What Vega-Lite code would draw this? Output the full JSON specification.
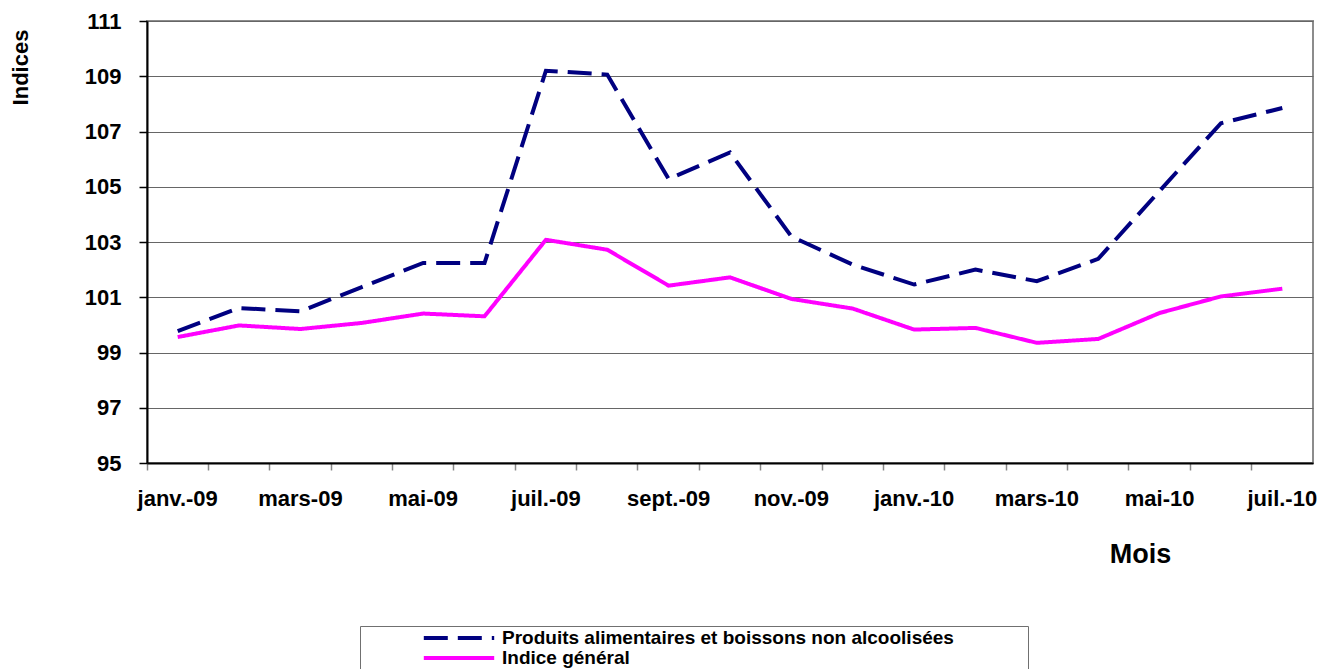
{
  "$schema": "https://vega.github.io/schema/vega-lite/v6.json",
  "width": 1166,
  "height": 442,
  "autosize": {"type": "none"},
  "padding": {"left": 147, "top": 21, "right": 12, "bottom": 206},
  "background": "white",
  "config": {
    "font": "Liberation Sans",
    "view": {"stroke": "#8c8c8c", "strokeWidth": 2},
    "axis": {"labelFont": "Liberation Sans", "titleFont": "Liberation Sans"}
  },
  "data": {
    "values": [
      {"mois": "janv.-09", "serie": "Produits alimentaires et boissons non alcoolisées", "valeur": 99.77},
      {"mois": "févr.-09", "serie": "Produits alimentaires et boissons non alcoolisées", "valeur": 100.61},
      {"mois": "mars-09", "serie": "Produits alimentaires et boissons non alcoolisées", "valeur": 100.49},
      {"mois": "avr.-09", "serie": "Produits alimentaires et boissons non alcoolisées", "valeur": 101.37},
      {"mois": "mai-09", "serie": "Produits alimentaires et boissons non alcoolisées", "valeur": 102.24},
      {"mois": "juin-09", "serie": "Produits alimentaires et boissons non alcoolisées", "valeur": 102.24},
      {"mois": "juil.-09", "serie": "Produits alimentaires et boissons non alcoolisées", "valeur": 109.2},
      {"mois": "août-09", "serie": "Produits alimentaires et boissons non alcoolisées", "valeur": 109.06},
      {"mois": "sept.-09", "serie": "Produits alimentaires et boissons non alcoolisées", "valeur": 105.28},
      {"mois": "oct.-09", "serie": "Produits alimentaires et boissons non alcoolisées", "valeur": 106.24},
      {"mois": "nov.-09", "serie": "Produits alimentaires et boissons non alcoolisées", "valeur": 103.2},
      {"mois": "déc.-09", "serie": "Produits alimentaires et boissons non alcoolisées", "valeur": 102.18},
      {"mois": "janv.-10", "serie": "Produits alimentaires et boissons non alcoolisées", "valeur": 101.46},
      {"mois": "févr.-10", "serie": "Produits alimentaires et boissons non alcoolisées", "valeur": 102.0},
      {"mois": "mars-10", "serie": "Produits alimentaires et boissons non alcoolisées", "valeur": 101.58},
      {"mois": "avr.-10", "serie": "Produits alimentaires et boissons non alcoolisées", "valeur": 102.39},
      {"mois": "mai-10", "serie": "Produits alimentaires et boissons non alcoolisées", "valeur": 104.85},
      {"mois": "juin-10", "serie": "Produits alimentaires et boissons non alcoolisées", "valeur": 107.3},
      {"mois": "juil.-10", "serie": "Produits alimentaires et boissons non alcoolisées", "valeur": 107.85},
      {"mois": "janv.-09", "serie": "Indice général", "valeur": 99.56},
      {"mois": "févr.-09", "serie": "Indice général", "valeur": 99.98},
      {"mois": "mars-09", "serie": "Indice général", "valeur": 99.85},
      {"mois": "avr.-09", "serie": "Indice général", "valeur": 100.07},
      {"mois": "mai-09", "serie": "Indice général", "valeur": 100.41},
      {"mois": "juin-09", "serie": "Indice général", "valeur": 100.31},
      {"mois": "juil.-09", "serie": "Indice général", "valeur": 103.08},
      {"mois": "août-09", "serie": "Indice général", "valeur": 102.72},
      {"mois": "sept.-09", "serie": "Indice général", "valeur": 101.42},
      {"mois": "oct.-09", "serie": "Indice général", "valeur": 101.72},
      {"mois": "nov.-09", "serie": "Indice général", "valeur": 100.94},
      {"mois": "déc.-09", "serie": "Indice général", "valeur": 100.59},
      {"mois": "janv.-10", "serie": "Indice général", "valeur": 99.83},
      {"mois": "févr.-10", "serie": "Indice général", "valeur": 99.89},
      {"mois": "mars-10", "serie": "Indice général", "valeur": 99.35},
      {"mois": "avr.-10", "serie": "Indice général", "valeur": 99.49},
      {"mois": "mai-10", "serie": "Indice général", "valeur": 100.43},
      {"mois": "juin-10", "serie": "Indice général", "valeur": 101.03},
      {"mois": "juil.-10", "serie": "Indice général", "valeur": 101.31}
    ]
  },
  "layer": [
    {
      "mark": {"type": "line", "strokeWidth": 4, "strokeCap": "butt", "strokeJoin": "miter"},
      "encoding": {
        "x": {
          "field": "mois", "type": "ordinal", "sort": null,
          "scale": {"type": "band", "paddingInner": 0, "paddingOuter": 0},
          "axis": {
            "orient": "bottom",
            "bandPosition": 0, "labels": false, "title": null, "grid": false,
            "domainColor": "#000000", "domainWidth": 2,
            "tickColor": "#888888", "tickSize": 7, "tickWidth": 1.5
          }
        },
        "y": {
          "field": "valeur", "type": "quantitative",
          "scale": {"domain": [95, 111], "nice": false, "zero": false},
          "axis": {
            "values": [95, 97, 99, 101, 103, 105, 107, 109, 111],
            "title": "Indices", "titleFontSize": 22, "titleFontWeight": "bold",
            "titleAngle": 270, "titleX": -127, "titleY": 46,
            "titleAlign": "center", "titleBaseline": "middle", "titleColor": "#000000",
            "labelFontSize": 22, "labelFontWeight": "bold", "labelColor": "#000000",
            "labelPadding": 18,
            "domainColor": "#000000", "domainWidth": 2,
            "tickColor": "#000000", "tickSize": 8, "tickWidth": 1.5,
            "grid": true, "gridColor": "#666666", "gridWidth": 1
          }
        },
        "color": {
          "field": "serie", "type": "nominal",
          "scale": {
            "domain": ["Produits alimentaires et boissons non alcoolisées", "Indice général"],
            "range": ["#000080", "#FF00FF"]
          },
          "legend": {
            "orient": "none", "legendX": 213, "legendY": 605,
            "direction": "vertical",
            "title": "\u00a0", "titleOrient": "right", "titlePadding": 72, "titleFontSize": 10,
            "strokeColor": "#707070", "fillColor": "#ffffff", "padding": 2,
            "symbolType": "M-4.4,0H4.4", "symbolSize": 256, "symbolStrokeWidth": 4,
            "symbolOffset": 87, "labelOffset": 33, "rowPadding": 0,
            "labelFont": "Liberation Sans", "labelFontSize": 19, "labelFontWeight": "bold",
            "labelColor": "#000000", "labelLimit": 0
          }
        },
        "strokeDash": {
          "field": "serie", "type": "nominal",
          "scale": {
            "domain": ["Produits alimentaires et boissons non alcoolisées", "Indice général"],
            "range": [[24, 10], [1, 0]]
          },
          "legend": {
            "orient": "none", "legendX": 213, "legendY": 605,
            "direction": "vertical",
            "title": "\u00a0", "titleOrient": "right", "titlePadding": 72, "titleFontSize": 10,
            "strokeColor": "#707070", "fillColor": "#ffffff", "padding": 2,
            "symbolType": "M-4.4,0H4.4", "symbolSize": 256, "symbolStrokeWidth": 4,
            "symbolOffset": 87, "labelOffset": 33, "rowPadding": 0,
            "labelFont": "Liberation Sans", "labelFontSize": 19, "labelFontWeight": "bold",
            "labelColor": "#000000", "labelLimit": 0
          }
        }
      }
    },
    {
      "mark": {"type": "point", "opacity": 0},
      "encoding": {
        "x": {
          "field": "mois", "type": "ordinal", "sort": null,
          "scale": {"type": "band", "paddingInner": 0, "paddingOuter": 0},
          "axis": {
            "orient": "bottom",
            "values": ["janv.-09", "mars-09", "mai-09", "juil.-09", "sept.-09", "nov.-09", "janv.-10", "mars-10", "mai-10", "juil.-10"],
            "labelAngle": 0, "labelFontSize": 22, "labelFontWeight": "bold", "labelColor": "#000000",
            "labelBaseline": "top", "labelPadding": 25, "labelOverlap": false,
            "ticks": false, "domain": false, "grid": false,
            "title": "Mois", "titleFontSize": 27, "titleFontWeight": "bold", "titleColor": "#000000",
            "titleX": 993, "titleY": 91, "titleAlign": "center", "titleBaseline": "middle"
          }
        },
        "y": {"field": "valeur", "type": "quantitative"}
      }
    }
  ],
  "resolve": {"axis": {"x": "independent"}}
}
